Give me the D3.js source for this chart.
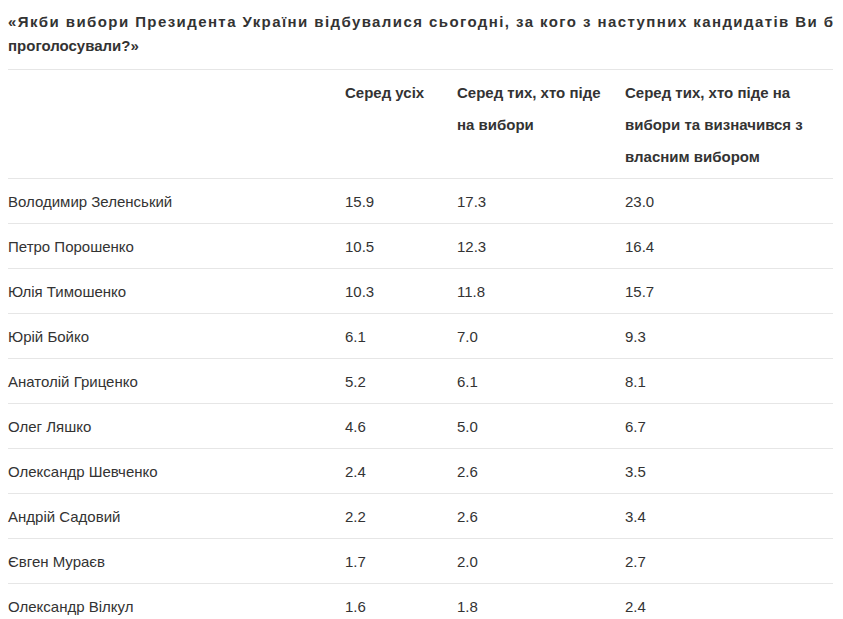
<!DOCTYPE html>
<meta charset="utf-8">
<head>
<style>
  body {margin: 0; background: #fff;}
  text {font-family: "Liberation Sans", Arial, sans-serif; fill: #333; font-size: 15px;}
  .title {font-weight: bold; fill: #333;}
  .head {font-weight: bold;}
  line {stroke: #e6e6e6; stroke-width: 1;}
</style>
<script src="https://d3js.org/d3.v7.min.js"></script>
</head>
<body>
<script>
var titleLines = ["«Якби вибори Президента України відбувалися сьогодні, за кого з наступних кандидатів Ви б", "проголосували?»"];
var headers = [["Серед усіх"], ["Серед тих, хто піде", "на вибори"], ["Серед тих, хто піде на", "вибори та визначився з", "власним вибором"]];
var candidates = ["Володимир Зеленський", "Петро Порошенко", "Юлія Тимошенко", "Юрій Бойко", "Анатолій Гриценко",
  "Олег Ляшко", "Олександр Шевченко", "Андрій Садовий", "Євген Мураєв", "Олександр Вілкул"];
var allVoters = ["15.9", "10.5", "10.3", "6.1", "5.2", "4.6", "2.4", "2.2", "1.7", "1.6"];
var goingVoters = ["17.3", "12.3", "11.8", "7.0", "6.1", "5.0", "2.6", "2.6", "2.0", "1.8"];
var decidedVoters = ["23.0", "16.4", "15.7", "9.3", "8.1", "6.7", "3.5", "3.4", "2.7", "2.4"];

var width = 843, height = 619;
var svg = d3.select("body").append("svg").attr("width", width).attr("height", height);

// title
svg.selectAll(".title").data(titleLines).enter().append("text")
  .attr("class", "title")
  .attr("x", 8)
  .attr("y", function(d, i) {return 27 + i * 24})
  .attr("textLength", function(d, i) {return i == 0 ? 825 : null})
  .attr("lengthAdjust", "spacing")
  .text(function(d) {return d});

var colX = [8, 345, 457, 625];
var rowY = d3.scaleBand().domain(d3.range(candidates.length)).range([178, 178 + 45 * candidates.length]);

// rules
svg.append("line").attr("x1", 8).attr("x2", 833).attr("y1", 69.5).attr("y2", 69.5);
svg.selectAll(".rule").data(d3.range(candidates.length)).enter().append("line")
  .attr("x1", 8).attr("x2", 833)
  .attr("y1", function(i) {return Math.round(rowY(i)) + 0.5})
  .attr("y2", function(i) {return Math.round(rowY(i)) + 0.5});

// header
headers.forEach(function(lines, c) {
  svg.append("g").selectAll("text").data(lines).enter().append("text")
    .attr("class", "head")
    .attr("x", colX[c + 1])
    .attr("y", function(d, i) {return 98 + i * 32})
    .text(function(d) {return d});
});

// rows
var rows = svg.selectAll(".row").data(candidates).enter().append("g")
  .attr("transform", function(d, i) {return "translate(0," + (rowY(i) + 29) + ")"});
rows.append("text").attr("x", colX[0]).text(function(d) {return d});
rows.append("text").attr("x", colX[1]).text(function(d, i) {return allVoters[i]});
rows.append("text").attr("x", colX[2]).text(function(d, i) {return goingVoters[i]});
rows.append("text").attr("x", colX[3]).text(function(d, i) {return decidedVoters[i]});
</script>
</body>
